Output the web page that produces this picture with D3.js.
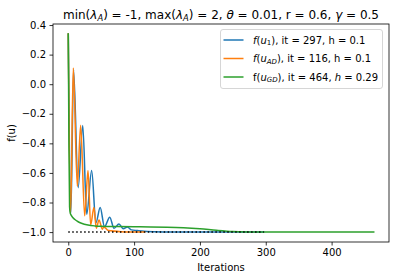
<!DOCTYPE html>
<html><head><meta charset="utf-8">
<script src="https://cdn.jsdelivr.net/npm/d3@7"></script>
<style>
body{margin:0;background:#fff;}
svg{display:block;font-family:"DejaVu Sans",sans-serif;}
</style></head>
<body><svg id="c" width="394" height="280"></svg>
<script>
// ---- data ----
const blueIt  = [0, 4, 8, 15, 22, 28, 35.5, 42, 48.5, 55, 63, 69.5, 77, 83.6, 89.7, 96, 105, 115, 130, 160, 297];
const blueVal = [0.34, -0.87, 0.10, -0.70, -0.28, -0.88, -0.584, -0.936, -0.834, -0.963, -0.899, -0.974, -0.945, -0.978, -0.965, -0.985, -0.99, -0.995, -0.998, -1.0, -1.0];
const orangeIt  = [0, 3.5, 7.6, 13.7, 18.8, 24.9, 30, 34, 39, 42.6, 46.7, 51.7, 54, 61, 80, 116];
const orangeVal = [0.34, -0.88, 0.11, -0.69, -0.277, -0.89, -0.584, -0.952, -0.834, -0.974, -0.918, -0.98, -0.965, -0.99, -0.997, -1.0];
const greenIt  = [0, 1, 2, 3, 5, 10, 15, 20, 30, 40, 50, 75, 100, 125, 150, 175, 200, 225, 250, 275, 300, 464];
const greenVal = [0.34, -0.40, -0.83, -0.872, -0.89, -0.915, -0.93, -0.94, -0.952, -0.958, -0.961, -0.963, -0.964, -0.965, -0.967, -0.971, -0.978, -0.988, -0.996, -0.999, -1.0, -1.0];
const refIt  = [0, 297];
const refVal = [-1, -1];
const xTicks = [0, 100, 200, 300, 400];
const yTicks = [0.4, 0.2, 0.0, -0.2, -0.4, -0.6, -0.8, -1.0];
const colors = ["#1f77b4", "#ff7f0e", "#2ca02c"];

// ---- layout ----
const L = 53, R = 389, T = 24, B = 242;
const svg = d3.select("#c");
const x = d3.scaleLinear().domain([-23.2, 487.2]).range([L, R]);
const y = d3.scaleLinear().domain([-1.067, 0.407]).range([B, T]);

const line = d3.line().x(d => x(d[0])).y(d => y(d[1])).curve(d3.curveMonotoneX);
const zip = (a, b) => a.map((v, i) => [v, b[i]]);

const g = svg.append("g");
[[blueIt, blueVal, colors[0]], [orangeIt, orangeVal, colors[1]], [greenIt, greenVal, colors[2]]].forEach(([a, b, c]) => {
  g.append("path").attr("d", line(zip(a, b))).attr("fill", "none").attr("stroke", c)
    .attr("stroke-width", 1.5).attr("stroke-linejoin", "round").attr("stroke-linecap", "square");
});
g.append("path").attr("d", d3.line().x(d => x(d[0])).y(d => y(d[1]))(zip(refIt, refVal)))
  .attr("fill", "none").attr("stroke", "#000").attr("stroke-width", 1.5).attr("stroke-dasharray", "1.5,2.475");

// axes
const fmtY = d => d3.format(".1f")(d).replace("-", "\u2212");
const xa = svg.append("g").attr("transform", `translate(0,${B})`)
  .call(d3.axisBottom(x).tickValues(xTicks).tickSize(3.5).tickPadding(3.5).tickFormat(d3.format("d")));
const ya = svg.append("g").attr("transform", `translate(${L},0)`)
  .call(d3.axisLeft(y).tickValues(yTicks).tickSize(3.5).tickPadding(3.5).tickFormat(fmtY));
[xa, ya].forEach(a => {
  a.select(".domain").remove();
  a.selectAll("line").attr("stroke", "#000").attr("stroke-width", 0.8);
  a.selectAll("text").attr("font-family", "DejaVu Sans").attr("font-size", 10).attr("fill", "#000");
});
svg.append("rect").attr("x", L).attr("y", T).attr("width", R - L).attr("height", B - T)
  .attr("fill", "none").attr("stroke", "#000").attr("stroke-width", 0.8);

svg.append("text").attr("x", (L + R) / 2).attr("y", 271).attr("text-anchor", "middle")
  .attr("font-size", 10).text("Iterations");
svg.append("text").attr("transform", `translate(15,${(T + B) / 2}) rotate(-90)`).attr("text-anchor", "middle")
  .attr("font-size", 10).text("f(u)");

// rich text helper: parts = [text, style] where style: "" | "i" | "sub" | "isub"
function rich(sel, parts) {
  parts.forEach(([t, s]) => {
    const ts = sel.append("tspan").text(t);
    if (s.includes("i")) ts.attr("font-style", "italic");
    if (s.includes("sub")) ts.attr("font-size", "70%").attr("dy", "0.2em");
    if (s === "" || s === "i") { }
  });
}
function richSub(sel, parts) {
  // handles returning baseline after subscript
  let shifted = false;
  parts.forEach(([t, s]) => {
    const ts = sel.append("tspan").text(t);
    if (s.includes("i")) ts.attr("font-style", "italic");
    if (s.includes("sub")) {
      ts.attr("font-size", "70%");
      if (!shifted) { ts.attr("dy", "0.25em"); shifted = true; }
    } else if (shifted) { ts.attr("dy", "-0.175em"); shifted = false; }
  });
}

const title = svg.append("text").attr("x", (L + R) / 2).attr("y", 19).attr("text-anchor", "middle").attr("font-size", 12);
richSub(title, [["min(", ""], ["\u03bb", "i"], ["A", "isub"], [") = -1, max(", ""], ["\u03bb", "i"], ["A", "isub"],
  [") = 2, ", ""], ["\u03b8", "i"], [" = 0.01, r = 0.6, ", ""], ["\u03b3", "i"], [" = 0.5", ""]]);

// legend
const lg = svg.append("g");
lg.append("rect").attr("x", 220.5).attr("y", 29.5).attr("width", 162).attr("height", 59).attr("rx", 2.5)
  .attr("fill", "#fff").attr("fill-opacity", 0.8).attr("stroke", "#cccccc").attr("stroke-width", 0.8);
const labels = [
  [["f", "i"], ["(", ""], ["u", "i"], ["1", "sub"], ["), it = 297, h = 0.1", ""]],
  [["f", "i"], ["(", ""], ["u", "i"], ["AD", "isub"], ["), it = 116, h = 0.1", ""]],
  [["f(", ""], ["u", "i"], ["GD", "isub"], ["), it = 464, ", ""], ["h", "i"], [" = 0.29", ""]]
];
const rowY = [40, 58.5, 77];
labels.forEach((parts, i) => {
  lg.append("line").attr("x1", 223.5).attr("x2", 243.5).attr("y1", rowY[i]).attr("y2", rowY[i])
    .attr("stroke", colors[i]).attr("stroke-width", 1.5);
  const t = lg.append("text").attr("x", 253).attr("y", rowY[i] + 3.6).attr("font-size", 10);
  richSub(t, parts);
});
</script></body></html>
